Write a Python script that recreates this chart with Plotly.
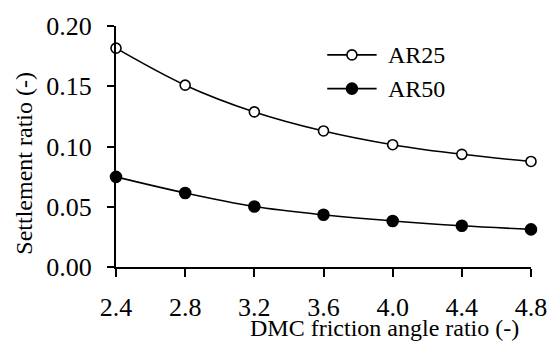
import plotly.graph_objects as go

# DMC friction angle ratio and settlement ratio for two area ratios
friction_ratio = [2.4, 2.8, 3.2, 3.6, 4.0, 4.4, 4.8]
ar25 = [0.1816, 0.1509, 0.1287, 0.1129, 0.1015, 0.0935, 0.0876]
ar50 = [0.0748, 0.0614, 0.0502, 0.0433, 0.0382, 0.0342, 0.0312]
series_names = ["AR25", "AR50"]

x_ticks = [2.4, 2.8, 3.2, 3.6, 4.0, 4.4, 4.8]
x_tick_text = ["2.4", "2.8", "3.2", "3.6", "4.0", "4.4", "4.8"]
y_ticks = [0.00, 0.05, 0.10, 0.15, 0.20]
y_tick_text = ["0.00", "0.05", "0.10", "0.15", "0.20"]

FONT = "Liberation Serif, Times New Roman, serif"
TXT = dict(family=FONT, size=24, color="black")
TICK = dict(family=FONT, size=26, color="black")
LINE_W = 1.6

styles = [
    dict(fill="white", size=10),   # open circles
    dict(fill="black", size=11),   # filled circles
]

fig = go.Figure()
for name, values, st in zip(series_names, [ar25, ar50], styles):
    fig.add_trace(go.Scatter(
        x=friction_ratio, y=values, name=name, mode="lines+markers",
        line=dict(color="black", width=LINE_W, shape="spline"),
        marker=dict(symbol="circle", size=st["size"], color=st["fill"],
                    line=dict(color="black", width=LINE_W)),
        cliponaxis=False, showlegend=False,
    ))

# Hand-drawn legend: long line sample with a circle in the middle
legend_x0, legend_x1 = 0.509, 0.628   # paper fractions of plot width
legend_rows = [0.88, 0.74]
for name, st, ly in zip(series_names, styles, legend_rows):
    fig.add_shape(type="line", xref="paper", yref="paper",
                  x0=legend_x0, x1=legend_x1, y0=ly, y1=ly,
                  opacity=1, layer="above",
                  line=dict(color="black", width=LINE_W))
    r = st["size"] / 2
    xc = (legend_x0 + legend_x1) / 2
    fig.add_shape(type="circle", xref="paper", yref="paper",
                  xsizemode="pixel", ysizemode="pixel",
                  xanchor=xc, yanchor=ly,
                  x0=-r, x1=r, y0=-r, y1=r,
                  opacity=1, layer="above",
                  fillcolor=st["fill"], line=dict(color="black", width=LINE_W))
    fig.add_annotation(text=name, xref="paper", yref="paper",
                       x=legend_x1 + 0.022, y=ly, xanchor="left", yanchor="middle",
                       showarrow=False, font=TXT)

fig.update_layout(
    template="simple_white",
    width=559, height=345,
    margin=dict(l=116, r=22, t=17, b=78),
    paper_bgcolor="white", plot_bgcolor="white",
    font=TXT,
    showlegend=False,
)

fig.update_xaxes(
    range=[2.4, 4.8], tickvals=x_ticks, ticktext=x_tick_text,
    tickfont=TICK,
    showline=True, linecolor="black", linewidth=2,
    ticks="outside", ticklen=8, tickwidth=2, tickcolor="black",
    ticklabelstandoff=8,
    showgrid=False, zeroline=False, mirror=False,
)
fig.update_yaxes(
    range=[0, 0.2], tickvals=y_ticks, ticktext=y_tick_text,
    tickfont=TICK,
    showline=True, linecolor="black", linewidth=2,
    ticks="outside", ticklen=7, tickwidth=2, tickcolor="black",
    ticklabelstandoff=10,
    showgrid=False, zeroline=False, mirror=False,
)

fig.add_annotation(
    text="DMC friction angle ratio (-)", xref="paper", yref="paper",
    x=0.975, y=-0.255, xanchor="right", yanchor="middle", showarrow=False,
    font=TXT,
)
fig.add_annotation(
    text="Settlement ratio (-)", xref="paper", yref="paper",
    x=-0.221, y=0.43, xanchor="center", yanchor="middle", showarrow=False,
    textangle=-90, font=TXT,
)

fig.write_html("out.html")
